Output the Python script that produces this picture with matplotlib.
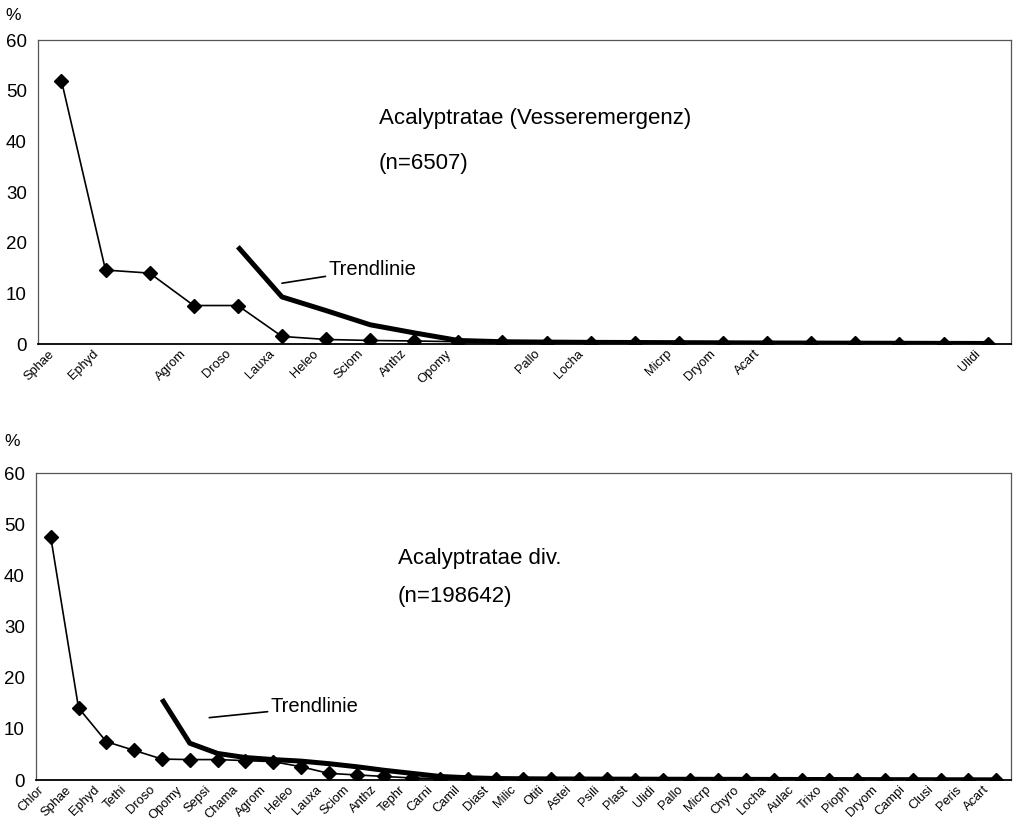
import matplotlib.pyplot as plt
from matplotlib.transforms import ScaledTranslation

plt.rcParams['font.family'] = ['Liberation Sans', 'DejaVu Sans']

# top panel: Acalyptratae (Vesseremergenz)
top_labels = ['Sphae', 'Ephyd', '', 'Agrom', 'Droso', 'Lauxa', 'Heleo', 'Sciom', 'Anthz', 'Opomy', '',
              'Pallo', 'Locha', '', 'Micrp', 'Dryom', 'Acart', '', '', '', '', 'Ulidi']
top_values = [52.0, 14.6, 14.0, 7.6, 7.6, 1.5, 0.9, 0.7, 0.6, 0.45, 0.35,
              0.3, 0.28, 0.25, 0.22, 0.2, 0.18, 0.15, 0.12, 0.1, 0.08, 0.05]
top_trend_start = 4
top_trend = [19.2, 9.3, 6.6, 3.8, 2.2, 0.7, 0.45, 0.38, 0.33, 0.3, 0.27, 0.24,
             0.21, 0.19, 0.17, 0.15, 0.13, 0.11]

# bottom panel: Acalyptratae div.
bot_labels = ['Chlor', 'Sphae', 'Ephyd', 'Tethi', 'Droso', 'Opomy', 'Sepsi', 'Chama', 'Agrom', 'Heleo',
              'Lauxa', 'Sciom', 'Anthz', 'Tephr', 'Carni', 'Camil', 'Diast', 'Milic', 'Otiti', 'Astei',
              'Psili', 'Plast', 'Ulidi', 'Pallo', 'Micrp', 'Chyro', 'Locha', 'Aulac', 'Trixo', 'Pioph',
              'Dryom', 'Campi', 'Clusi', 'Peris', 'Acart']
bot_values = [47.5, 14.1, 7.5, 5.8, 4.1, 4.0, 4.0, 3.8, 3.6, 2.6,
              1.3, 1.0, 0.7, 0.4, 0.3, 0.25, 0.2, 0.15, 0.13, 0.12,
              0.11, 0.1, 0.09, 0.08, 0.07, 0.06, 0.05, 0.05, 0.04, 0.04,
              0.03, 0.03, 0.02, 0.02, 0.01]
bot_trend_start = 4
bot_trend = [15.8, 7.2, 5.2, 4.4, 4.0, 3.7, 3.2, 2.6, 1.9, 1.3, 0.7, 0.45, 0.3,
             0.25, 0.22, 0.2, 0.18, 0.17, 0.16, 0.15, 0.14, 0.13, 0.12, 0.11, 0.1,
             0.09, 0.08, 0.07, 0.06, 0.05, 0.04]


def draw_panel(ax, labels, values, trend_start, trend, title, n_text,
               title_x, title_y, n_y, pct_xy, trend_text_xy, trend_arrow_xy):
    x = list(range(len(values)))
    xt = list(range(trend_start, trend_start + len(trend)))
    ax.plot(xt, trend, color='black', linewidth=3.6, solid_capstyle='butt', zorder=2)
    ax.plot(x, values, color='black', linewidth=1.2, marker='D', markersize=6.8, zorder=3)
    ax.set_xlim(-0.53, len(values) - 0.47)
    ax.set_ylim(0, 60)
    ax.set_yticks([0, 10, 20, 30, 40, 50, 60])
    ax.set_xticks(x)
    ax.set_xticklabels([])
    # category labels, rotated, ending just left of / below each point
    off = ax.get_xaxis_transform() + ScaledTranslation(-9 / 100, -8 / 100, fig.dpi_scale_trans)
    for xi, lab in zip(x, labels):
        ax.text(xi, 0, lab, transform=off, rotation=45, rotation_mode='anchor',
                ha='right', va='center', fontsize=9.3)
    ax.tick_params(axis='both', length=0)
    ax.tick_params(axis='y', labelsize=13.5, pad=8)
    for side in ['top', 'left', 'right']:
        ax.spines[side].set_color('#555555')
        ax.spines[side].set_linewidth(0.9)
    ax.spines['bottom'].set_color('black')
    ax.spines['bottom'].set_linewidth(1.3)
    ax.text(title_x, title_y, title, transform=ax.transAxes, fontsize=16, va='center')
    ax.text(title_x, n_y, n_text, transform=ax.transAxes, fontsize=16, va='center')
    ax.annotate('Trendlinie', xy=trend_arrow_xy, xytext=trend_text_xy, xycoords='data',
                textcoords='data', fontsize=14.5, va='center',
                arrowprops=dict(arrowstyle='-', color='black', linewidth=1.2, shrinkA=0, shrinkB=0))
    ax.text(pct_xy[0], pct_xy[1], '%', transform=ax.transAxes, fontsize=12.5, ha='left', va='center')


fig = plt.figure(figsize=(10.14, 8.34), dpi=100)
ax1 = fig.add_axes([0.0375, 0.5875, 0.9596, 0.3645])
ax2 = fig.add_axes([0.0355, 0.0647, 0.9615, 0.368])

draw_panel(ax1, top_labels, top_values, top_trend_start, top_trend,
           'Acalyptratae (Vesseremergenz)', '(n=6507)',
           0.35, 0.743, 0.595, (-0.034, 1.082), (6.05, 14.8), (5.0, 12.0))
draw_panel(ax2, bot_labels, bot_values, bot_trend_start, bot_trend,
           'Acalyptratae div.', '(n=198642)',
           0.371, 0.723, 0.599, (-0.032, 1.104), (7.9, 14.3), (5.7, 12.2))

fig.savefig('out.png', dpi=100)
